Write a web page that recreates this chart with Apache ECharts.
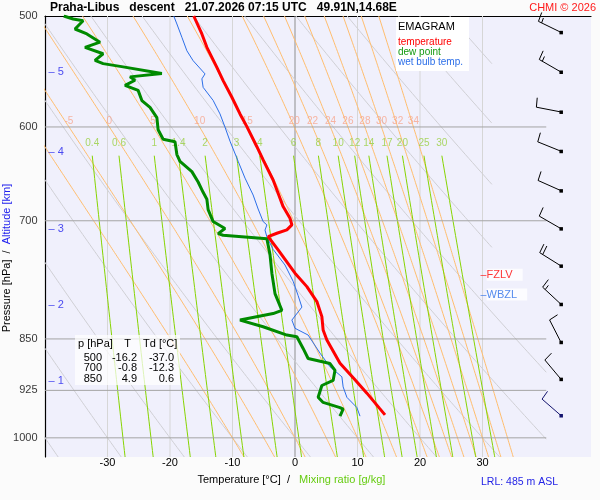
<!DOCTYPE html>
<html><head><meta charset="utf-8">
<script src="https://cdn.jsdelivr.net/npm/echarts@6.0.0/dist/echarts.min.js"></script>
<style>html,body{margin:0;padding:0;background:#fbfbfb;}#c{width:600px;height:500px;}</style>
</head><body><div id="c"></div>
<script>
// ---------- sounding data ----------
const tempP = [500, 515, 526.4, 544, 556, 571.4, 587.3, 599.7, 619.8, 633.4, 654.6, 669, 683.9, 697.1, 704.8, 710.6, 714.5, 718.5, 734.4, 763, 780, 799.4, 819.4, 837.5, 851.4, 884.6, 909.1, 929.2, 952.4, 963];
const tempT = [-16.2, -14.9, -14.1, -12.5, -11.5, -10.1, -8.8, -7.7, -6.1, -5.1, -3.5, -2.7, -1.9, -0.8, -0.5, -1.3, -2.9, -4.3, -2.7, 0, 1.9, 3.5, 4.3, 4.5, 5.1, 7.2, 9.6, 11.5, 13.5, 14.4];
const dewP = [500, 502.5, 503.9, 510.8, 515, 522, 526.4, 532, 537.8, 540.7, 543.6, 549.6, 552.6, 555.7, 560.3, 565, 574.5, 581, 590.9, 602.8, 612.3, 614.7, 627.8, 634.8, 645.7, 656.8, 668, 675.7, 687.3, 700.9, 708.9, 714.9, 716.9, 720.9, 740, 763, 789, 811, 815.3, 824.1, 833.2, 844.6, 847, 863.4, 877.8, 885.1, 895, 910, 917.6, 935.6, 943.5, 951.5, 954, 965];
const dewT = [-37.0, -35.5, -33.9, -35.2, -33.3, -31.2, -33.6, -30.7, -32.0, -30.7, -27.5, -21.3, -26.4, -25.6, -27.2, -25.1, -24.5, -23.2, -22.1, -21.9, -21.1, -19.2, -18.9, -18.4, -16.5, -15.5, -14.7, -14.1, -13.9, -13.1, -11.2, -12.3, -11.5, -4.5, -4.0, -3.7, -3.2, -2.1, -3.5, -8.8, -5.1, -1.3, 0.3, 1.3, 2.1, 5.6, 6.4, 6.1, 4.3, 3.7, 4.5, 7.2, 7.7, 7.2];
const wetP = [500, 506.6, 517.8, 529.4, 538.1, 549.9, 554.4, 562.2, 574.4, 587.3, 600.2, 614.2, 634.8, 652.6, 671, 686.6, 700.9, 704.8, 710.8, 718.7, 733.7, 752.8, 773.2, 791.6, 806.7, 824.1, 835.3, 844.6, 870.1, 889.8, 904.6, 919.7, 935.6, 951.5, 965];
const wetT = [-19.4, -18.9, -18.1, -17.3, -16.3, -14.4, -14.9, -14.7, -13.1, -12.0, -11.2, -10.4, -9.1, -8.0, -6.7, -5.9, -5.1, -4.5, -4.8, -4.5, -3.5, -1.6, -0.3, 0.5, 1.1, -0.5, 0.0, 2.1, 4.0, 5.6, 7.5, 7.7, 8.3, 9.9, 10.4];

// wind barbs
const windP = [513.6, 548.2, 585.4, 624.4, 666.2, 709.1, 753.9, 802.9, 854.6, 908.1, 964.0];
const windDir = [296, 300, 281, 292, 294, 300, 302, 313, 333, 320, 311];
const windSpd = [15, 15, 10, 10, 10, 10, 20, 15, 10, 10, 10];

// table
const tableP = [500, 700, 850];
const tableT = ['-16.2', '-0.8', '4.9'];
const tableTd = ['-37.0', '-12.3', '0.6'];

// axes / reference lines
const pressureLabels = [500, 600, 700, 850, 925, 1000];
const isobarLevels = [600, 700, 850, 925, 1000];
const isotherms = [-30, -20, -10, 0, 10, 20, 30];
const altKm = [1, 2, 3, 4, 5];
const altP = [910.9, 803.8, 709.8, 625.2, 548.6];
const dryTheta = [-40, -30, -20, -10, 0, 10, 20, 30, 40, 50, 60, 70, 80, 90];
const moistThetaW = [-10, -5, 0, 5, 10, 15, 20, 22, 24, 26, 28, 30, 32, 34];
const moistLabels = [-5, 0, 5, 10, 15, 20, 22, 24, 26, 28, 30, 32, 34];
const mixRatios = [0.4, 0.6, 1, 1.4, 2, 3, 4, 6, 8, 10, 12, 14, 17, 20, 25, 30];
const levelNames = ['FZLV', 'WBZL'];
const levelP = [764.8, 790.3];
const levelColors = ['#ff0000', '#2b6ee8'];

// ---------- layout constants ----------
const P_TOP = 500, P_BOT = 1032, T_MIN = -40, T_MAX = 47.36, T_GRID_END = 40.2;
const BARB_T = 42.55, LEVEL_T = 29.6, MIX_TOP = 629, LABEL_P = 600;
const FONT = 'Liberation Sans, Arial, Helvetica, sans-serif';

// ---------- thermodynamics for the diagram background ----------
function dryT(thC, p) { return (thC + 273.15) * Math.pow(p / 1000, 0.2857) - 273.15; }
function esat(Tc) { return 6.112 * Math.exp(17.67 * Tc / (Tc + 243.5)); }
function dTdp(Tc, p) {
  const T = Tc + 273.15, e = esat(Tc), r = 0.622 * e / (p - e);
  const Lv = 2.501e6, Rd = 287.04, cp = 1005.7;
  return (Rd * T + Lv * r) / (p * (cp + Lv * Lv * r * 0.622 / (Rd * T * T)));
}
function moistCurve(tw) {
  const up = [], down = [];
  let T = tw, p = 1000, h = -2.5;
  up.push([T, p]);
  while (p > P_TOP + 1e-6) {
    const k1 = dTdp(T, p), k2 = dTdp(T + h * k1 / 2, p + h / 2), k3 = dTdp(T + h * k2 / 2, p + h / 2), k4 = dTdp(T + h * k3, p + h);
    T += h * (k1 + 2 * k2 + 2 * k3 + k4) / 6; p += h; up.push([T, p]);
  }
  T = tw; p = 1000; h = 2;
  while (p < P_BOT) {
    const k1 = dTdp(T, p), k2 = dTdp(T + h * k1 / 2, p + h / 2), k3 = dTdp(T + h * k2 / 2, p + h / 2), k4 = dTdp(T + h * k3, p + h);
    T += h * (k1 + 2 * k2 + 2 * k3 + k4) / 6; p += h; down.push([T, p]);
  }
  return up.reverse().concat(down);
}
function moistAt(curve, pp) {
  for (let i = 1; i < curve.length; i++) {
    const a = curve[i - 1], b = curve[i];
    if ((a[1] - pp) * (b[1] - pp) <= 0) { const f = (pp - a[1]) / (b[1] - a[1]); return a[0] + f * (b[0] - a[0]); }
  }
  return NaN;
}
function mixTd(w, p) { const e = w * p / (622 + w); const l = Math.log(e / 6.112); return 243.5 * l / (17.67 - l); }

// ---------- series ----------
const series = [];
function addLine(data, color, width, z) {
  series.push({ type: 'line', data: data, symbol: 'none', silent: true, animation: false, clip: true,
    lineStyle: { color: color, width: width }, z: z || 2 });
}
isotherms.forEach(t => addLine([[t, P_TOP], [t, P_BOT]], t === 0 ? '#8e8e8e' : '#d6d6d6', 1));
dryTheta.forEach(th => {
  const tEnd = th >= 60 ? 31.5 : T_GRID_END;
  const pts = [];
  for (let p = P_TOP; p <= P_BOT; p += 4) { const t = dryT(th, p); if (t > tEnd) break; pts.push([t, p]); }
  const pEnd = 1000 * Math.pow((tEnd + 273.15) / (th + 273.15), 3.5);
  if (pEnd > P_TOP && pEnd < P_BOT) pts.push([tEnd, pEnd]);
  if (pts.length > 1) addLine(pts, '#cfcfd4', 1);
});
const moistCurves = {};
moistThetaW.forEach(tw => { moistCurves[tw] = moistCurve(tw); addLine(moistCurves[tw], '#ffbd6e', 1); });
mixRatios.forEach(w => {
  const pts = [];
  for (let p = MIX_TOP; p <= P_BOT; p += 8) pts.push([mixTd(w, p), p]);
  pts.push([mixTd(w, P_BOT), P_BOT]);
  addLine(pts, '#86d400', 1);
});
isobarLevels.forEach(p => addLine([[T_MIN, p], [T_GRID_END, p]], '#a4a4a4', 1, 3));

// labels
function labelScatter(data, label, z) {
  series.push({ type: 'scatter', data: data, symbol: 'circle', symbolSize: 1, silent: true, animation: false, clip: false,
    itemStyle: { color: 'rgba(0,0,0,0)' }, label: Object.assign({ show: true, fontFamily: FONT }, label), z: z || 4 });
}
labelScatter(mixRatios.map(w => [mixTd(w, MIX_TOP), MIX_TOP, w]),
  { position: 'top', distance: 6.5, fontSize: 10, color: '#99d040', formatter: p => String(p.data[2]) });
labelScatter(moistLabels.map(tw => [moistAt(moistCurves[tw], LABEL_P), LABEL_P, tw]),
  { position: 'top', distance: 0, fontSize: 10, color: '#f7a58c', formatter: p => String(p.data[2]) });
labelScatter(pressureLabels.map(p => [T_MIN, p]),
  { position: 'left', distance: 7, fontSize: 11, color: '#000', formatter: p => String(p.data[1]) });
labelScatter(altKm.map((k, i) => [T_MIN, altP[i], k]),
  { position: 'right', distance: 3, fontSize: 11, color: '#2020ee', formatter: p => '\u2013 ' + p.data[2] });
levelNames.forEach((nm, i) => {
  labelScatter([[LEVEL_T, levelP[i]]], { position: 'right', distance: 0, fontSize: 11, formatter: '{d|\u2013}{t|' + nm + '}',
    rich: { d: { color: levelColors[i], fontSize: 11, fontFamily: FONT },
            t: { color: levelColors[i], fontSize: 11, fontFamily: FONT, backgroundColor: '#ffffff', padding: [1, 10, 0, 0] } } }, 6);
});

// sounding lines
addLine(wetP.map((p, i) => [wetT[i], p]), '#2b6ee8', 1, 5);
addLine(dewP.map((p, i) => [dewT[i], p]), '#008a00', 3, 6);
addLine(tempP.map((p, i) => [tempT[i], p]), '#ff0000', 3, 7);

// wind barbs
series.push({
  type: 'custom', silent: true, animation: false, clip: false, z: 8,
  data: windP.map((p, i) => [BARB_T, p, windDir[i], windSpd[i]]),
  encode: { x: 0, y: 1 },
  renderItem: function (params, api) {
    const pt = api.coord([api.value(0), api.value(1)]);
    const d = api.value(2) * Math.PI / 180, spd = api.value(3);
    const ux = Math.sin(d), uy = -Math.cos(d), nx = -uy, ny = ux;
    const L = 25, BL = 9.5, SP = 3.5, a = 84 * Math.PI / 180, ca = Math.cos(a), sa = Math.sin(a);
    const col = params.dataIndex === windP.length - 1 ? '#14146e' : '#000000';
    const tip = [pt[0] + L * ux, pt[1] + L * uy];
    const ch = [{ type: 'line', shape: { x1: pt[0], y1: pt[1], x2: tip[0], y2: tip[1] }, style: { stroke: col, lineWidth: 1 } }];
    let rem = spd, k = 0;
    while (rem >= 10) {
      const bx = tip[0] - k * SP * ux, by = tip[1] - k * SP * uy;
      ch.push({ type: 'line', shape: { x1: bx, y1: by, x2: bx + BL * (ca * ux + sa * nx), y2: by + BL * (ca * uy + sa * ny) }, style: { stroke: col, lineWidth: 1 } });
      rem -= 10; k++;
    }
    if (rem >= 5) {
      const bx = tip[0] - k * SP * ux, by = tip[1] - k * SP * uy;
      ch.push({ type: 'line', shape: { x1: bx, y1: by, x2: bx + BL * 0.55 * (ca * ux + sa * nx), y2: by + BL * 0.55 * (ca * uy + sa * ny) }, style: { stroke: col, lineWidth: 1 } });
    }
    ch.push({ type: 'rect', shape: { x: pt[0] - 1.5, y: pt[1] - 1.5, width: 3.5, height: 3.5 }, style: { fill: col } });
    return { type: 'group', children: ch };
  }
});

// ---------- graphic texts ----------
const G = [];
function txt(x, y, text, opts) {
  G.push(Object.assign({ type: 'text', x: x, y: y, z: 100, silent: true,
    style: Object.assign({ text: text, fontFamily: FONT, fontSize: 11, fill: '#000', verticalAlign: 'middle' }, opts || {}) }));
}
txt(50, 7.5, 'Praha-Libus   descent   21.07.2026 07:15 UTC   49.91N,14.68E', { fontSize: 12, fontWeight: 'bold' });
txt(596, 7.5, 'CHMI \u00a9 2026', { fill: '#ff1a1a', align: 'right' });
// legend box
G.push({ type: 'rect', z: 99, silent: true, shape: { x: 396, y: 17, width: 73, height: 54 }, style: { fill: '#ffffff' } });
txt(398, 26.5, 'EMAGRAM', { fontSize: 11 });
txt(398, 42, 'temperature', { fontSize: 10, fill: '#ff0000' });
txt(398, 52, 'dew point', { fontSize: 10, fill: '#119911' });
txt(398, 62.3, 'wet bulb temp.', { fontSize: 10, fill: '#2b6ee8' });
// table
G.push({ type: 'rect', z: 99, silent: true, shape: { x: 75, y: 335, width: 105, height: 50 }, style: { fill: 'rgba(255,255,255,0.72)' } });
txt(78, 343.5, 'p [hPa]');
txt(127.5, 343.5, 'T', { align: 'center' });
txt(143, 343.5, 'Td [\u00b0C]');
tableP.forEach((p, i) => {
  const y = 358 + i * 10.3;
  txt(102, y, String(p), { align: 'right' });
  txt(137, y, tableT[i], { align: 'right' });
  txt(174, y, tableTd[i], { align: 'right' });
});
// axis names
G.push({ type: 'text', x: 7, y: 258, rotation: Math.PI / 2, z: 100, silent: true,
  style: { text: '{a|Pressure [hPa]}  /  {b|Altitude [km]}', fontFamily: FONT, fontSize: 11, align: 'center', verticalAlign: 'middle',
    rich: { a: { fill: '#000', fontSize: 11, fontFamily: FONT }, b: { fill: '#2020ee', fontSize: 11, fontFamily: FONT } } } });
G.push({ type: 'text', x: 197.5, y: 479.5, z: 100, silent: true,
  style: { text: '{a|Temperature [\u00b0C]}  /   {b|Mixing ratio [g/kg]}', fontFamily: FONT, fontSize: 11, verticalAlign: 'middle',
    rich: { a: { fill: '#000', fontSize: 11, fontFamily: FONT }, b: { fill: '#66cc11', fontSize: 11, fontFamily: FONT } } } });
txt(558, 482, 'LRL: 485 m ASL', { fill: '#2424e6', fontSize: 10.5, align: 'right' });

// ---------- chart ----------
const chart = echarts.init(document.getElementById('c'));
chart.setOption({
  backgroundColor: '#fbfbfb',
  animation: false,
  textStyle: { fontFamily: FONT },
  grid: { left: 45, right: 9, top: 16, bottom: 43, show: true, backgroundColor: '#f0f0fc', borderWidth: 0 },
  xAxis: [
    { type: 'value', position: 'bottom', min: T_MIN, max: T_MAX, interval: 10,
      axisLine: { show: false }, axisTick: { show: false }, splitLine: { show: false },
      axisLabel: { show: true, margin: 0, fontSize: 11, color: '#000', fontFamily: FONT, showMinLabel: false, showMaxLabel: false,
        formatter: v => (isotherms.indexOf(v) >= 0 ? String(v) : '') } },
    { type: 'value', position: 'top', min: T_MIN, max: T_MAX,
      axisLine: { show: true, onZero: false, lineStyle: { color: '#000', width: 1.2 } }, axisTick: { show: false },
      axisLabel: { show: false }, splitLine: { show: false } }
  ],
  yAxis: { type: 'log', logBase: 10, min: P_TOP, max: P_BOT, inverse: true,
    axisLine: { show: true, onZero: false, lineStyle: { color: '#000', width: 1.2 } }, axisTick: { show: false },
    axisLabel: { show: false }, splitLine: { show: false } },
  series: series,
  graphic: G
});
</script></body></html>
